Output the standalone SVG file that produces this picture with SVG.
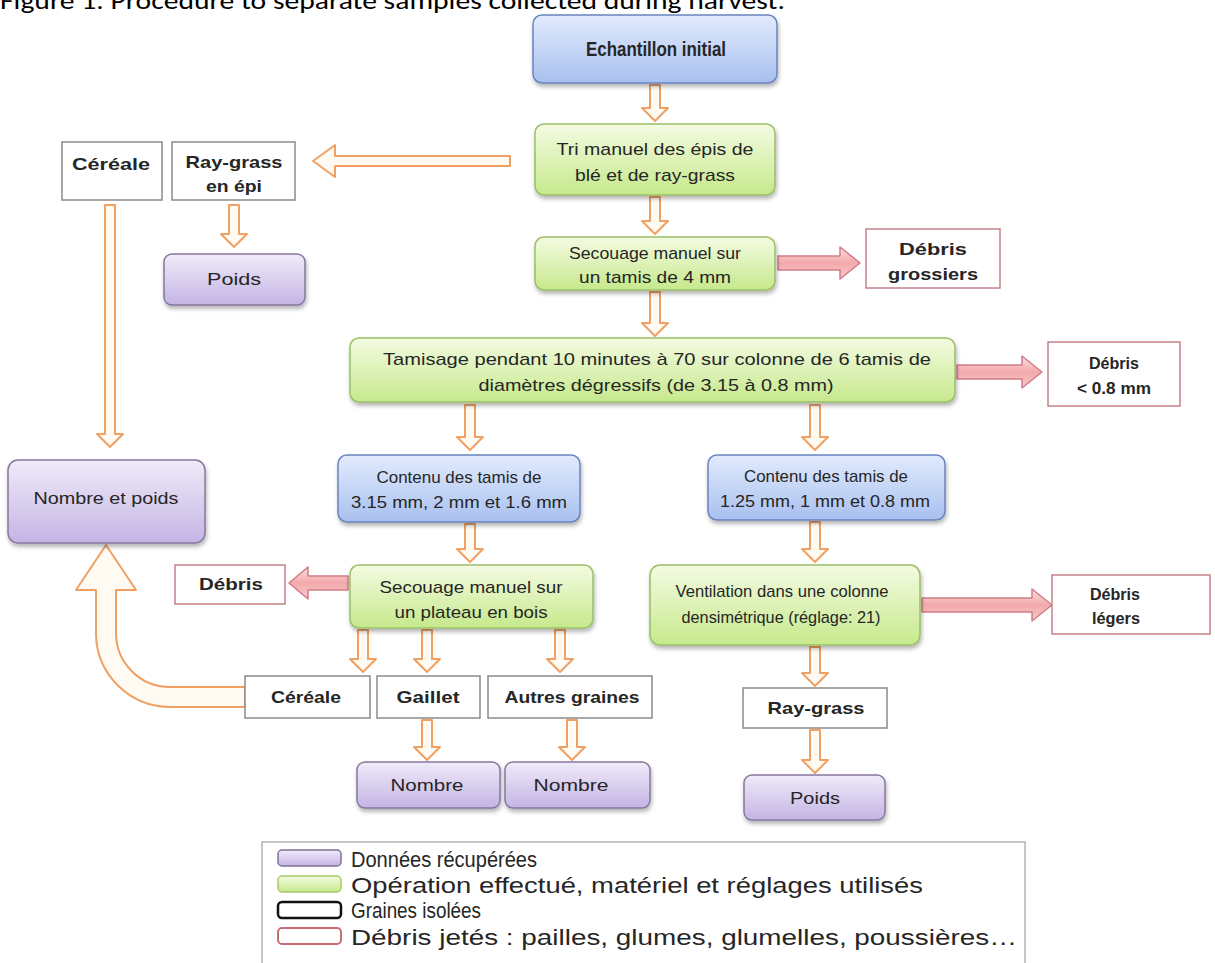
<svg xmlns="http://www.w3.org/2000/svg" width="1215" height="963" viewBox="0 0 1215 963">
<defs>
<linearGradient id="gBlue" x1="0" y1="0" x2="0" y2="1"><stop offset="0" stop-color="#e2ebfd"/><stop offset="1" stop-color="#a8c0ef"/></linearGradient>
<linearGradient id="gGreen" x1="0" y1="0" x2="0" y2="1"><stop offset="0" stop-color="#f4fbe2"/><stop offset="1" stop-color="#c6e98c"/></linearGradient>
<linearGradient id="gPurple" x1="0" y1="0" x2="0" y2="1"><stop offset="0" stop-color="#f0ebf9"/><stop offset="1" stop-color="#c4b4e4"/></linearGradient>
<linearGradient id="gRed" x1="0" y1="0" x2="0" y2="1"><stop offset="0" stop-color="#fbe0e0"/><stop offset="0.5" stop-color="#f2a9ab"/><stop offset="1" stop-color="#f7caca"/></linearGradient>
<filter id="sh" x="-10%" y="-10%" width="125%" height="135%"><feDropShadow dx="1" dy="3" stdDeviation="2" flood-color="#000" flood-opacity="0.3"/></filter>
<style>
.blue{fill:url(#gBlue);stroke:#6a84bd;stroke-width:1.5;filter:url(#sh)}
.green{fill:url(#gGreen);stroke:#9bbf68;stroke-width:1.5;filter:url(#sh)}
.purple{fill:url(#gPurple);stroke:#86779f;stroke-width:1.5;filter:url(#sh)}
.grain{fill:#fff;stroke:#8a8a8a;stroke-width:1.5}
.deb{fill:#fff;stroke:#c38288;stroke-width:1.5}
.oa{fill:#fffaf2;stroke:#f0a062;stroke-width:2;stroke-linejoin:round}
.ra{fill:url(#gRed);stroke:#d27b86;stroke-width:1.5;stroke-linejoin:round}
text{font-family:"Liberation Sans",Arial,sans-serif;fill:#262626;text-anchor:middle;font-size:17px}
.b{font-weight:bold;font-size:17px}
.lg{text-anchor:start;font-size:22px}
.title{font-family:Carlito,"Open Sans","Liberation Sans",sans-serif;text-anchor:start;font-size:24px;fill:#000}
</style>
</defs>
<rect width="1215" height="963" fill="#fff"/>
<text class="title" x="0" y="9" textLength="785" lengthAdjust="spacingAndGlyphs">Figure 1. Procedure to separate samples collected during harvest.</text>

<g id="connectors">
<path class="oa" d="M650,85 H660 V108 H668 L655,121 L642,108 H650 Z"/>
<path class="oa" d="M650,197 H660 V221 H668 L655,234 L642,221 H650 Z"/>
<path class="oa" d="M650,292 H660 V323 H668 L655,336 L642,323 H650 Z"/>
<path class="oa" d="M229,205 H239 V234 H247 L234,247 L221,234 H229 Z"/>
<path class="oa" d="M105,205 H115 V434 H123 L110,447 L97,434 H105 Z"/>
<path class="oa" d="M465,405 H475 V437 H483 L470,450 L457,437 H465 Z"/>
<path class="oa" d="M810,405 H820 V437 H828 L815,450 L802,437 H810 Z"/>
<path class="oa" d="M465,524 H475 V549 H483 L470,562 L457,549 H465 Z"/>
<path class="oa" d="M810,522 H820 V549 H828 L815,562 L802,549 H810 Z"/>
<path class="oa" d="M358,630 H368 V659 H376 L363,672 L350,659 H358 Z"/>
<path class="oa" d="M422,630 H432 V659 H440 L427,672 L414,659 H422 Z"/>
<path class="oa" d="M555,630 H565 V659 H573 L560,672 L547,659 H555 Z"/>
<path class="oa" d="M422,720 H432 V747 H440 L427,760 L414,747 H422 Z"/>
<path class="oa" d="M567,720 H577 V747 H585 L572,760 L559,747 H567 Z"/>
<path class="oa" d="M810,647 H820 V673 H828 L815,686 L802,673 H810 Z"/>
<path class="oa" d="M810,730 H820 V760 H828 L815,773 L802,760 H810 Z"/>
<path class="oa" d="M510,156 V166 H335 V177 L313,161 L335,145 V156 Z"/>
<path class="oa" d="M245,707 H170 A74,74 0 0 1 96,633 V590 H76 L106,545 L136,590 H116 V633 A54,54 0 0 0 170,687 H245 Z"/>
<path class="ra" d="M778,256 H840 V247 L860,263 L840,279 V270 H778 Z"/>
<path class="ra" d="M957,365 H1022 V356 L1042,372 L1022,388 V379 H957 Z"/>
<path class="ra" d="M348,576 H308 V567 L289,583 L308,599 V590 H348 Z"/>
<path class="ra" d="M922,598 H1032 V589 L1052,605 L1032,621 V612 H922 Z"/>
</g>

<g id="n-echantillon"><rect class="blue" x="533" y="15" width="244" height="68" rx="9"/><text class="b" x="656" y="56" style="font-size:21px" textLength="140" lengthAdjust="spacingAndGlyphs">Echantillon initial</text></g>
<g id="n-tri"><rect class="green" x="535" y="124" width="240" height="71" rx="9"/><text x="655" y="155" textLength="197" lengthAdjust="spacingAndGlyphs">Tri manuel des épis de</text><text x="655" y="181" textLength="160" lengthAdjust="spacingAndGlyphs">blé et de ray-grass</text></g>
<g id="n-cereale1"><rect class="grain" x="62" y="142" width="100" height="58"/><text class="b" x="111" y="170" textLength="78" lengthAdjust="spacingAndGlyphs">Céréale</text></g>
<g id="n-raygrass-epi"><rect class="grain" x="172" y="142" width="123" height="58"/><text class="b" x="234" y="168" textLength="97" lengthAdjust="spacingAndGlyphs">Ray-grass</text><text class="b" x="234" y="192" textLength="56" lengthAdjust="spacingAndGlyphs">en épi</text></g>
<g id="n-poids1"><rect class="purple" x="164" y="254" width="141" height="51" rx="8"/><text x="234" y="285" textLength="54" lengthAdjust="spacingAndGlyphs">Poids</text></g>
<g id="n-secouage1"><rect class="green" x="535" y="237" width="240" height="53" rx="9"/><text x="655" y="259" textLength="172" lengthAdjust="spacingAndGlyphs">Secouage manuel sur</text><text x="655" y="283" textLength="152" lengthAdjust="spacingAndGlyphs">un tamis de 4 mm</text></g>
<g id="n-debris-grossiers"><rect class="deb" x="866" y="229" width="134" height="59"/><text class="b" x="933" y="255" textLength="68" lengthAdjust="spacingAndGlyphs">Débris</text><text class="b" x="933" y="280" textLength="90" lengthAdjust="spacingAndGlyphs">grossiers</text></g>
<g id="n-tamisage"><rect class="green" x="350" y="338" width="605" height="64" rx="9"/><text x="657" y="365" textLength="548" lengthAdjust="spacingAndGlyphs">Tamisage pendant 10 minutes à 70 sur colonne de 6 tamis de</text><text x="656" y="391" textLength="355" lengthAdjust="spacingAndGlyphs">diamètres dégressifs (de 3.15 à 0.8 mm)</text></g>
<g id="n-debris-08"><rect class="deb" x="1048" y="342" width="132" height="64"/><text class="b" x="1114" y="369" textLength="50" lengthAdjust="spacingAndGlyphs">Débris</text><text class="b" x="1114" y="394" textLength="74" lengthAdjust="spacingAndGlyphs">&lt; 0.8 mm</text></g>
<g id="n-nombre-poids"><rect class="purple" x="8" y="460" width="197" height="83" rx="10"/><text x="106" y="504" textLength="145" lengthAdjust="spacingAndGlyphs">Nombre  et poids</text></g>
<g id="n-contenu1"><rect class="blue" x="338" y="455" width="242" height="67" rx="9"/><text x="459" y="483" textLength="165" lengthAdjust="spacingAndGlyphs">Contenu des tamis de</text><text x="459" y="508" textLength="216" lengthAdjust="spacingAndGlyphs">3.15 mm,  2 mm  et 1.6 mm</text></g>
<g id="n-contenu2"><rect class="blue" x="708" y="455" width="237" height="65" rx="9"/><text x="826" y="482" textLength="164" lengthAdjust="spacingAndGlyphs">Contenu des tamis de</text><text x="825" y="507" textLength="210" lengthAdjust="spacingAndGlyphs">1.25 mm,  1 mm  et 0.8 mm</text></g>
<g id="n-debris"><rect class="deb" x="175" y="565" width="110" height="39"/><text class="b" x="231" y="590" textLength="64" lengthAdjust="spacingAndGlyphs">Débris</text></g>
<g id="n-secouage2"><rect class="green" x="350" y="565" width="243" height="63" rx="9"/><text x="471" y="593" textLength="183" lengthAdjust="spacingAndGlyphs">Secouage manuel sur</text><text x="471" y="618" textLength="153" lengthAdjust="spacingAndGlyphs">un plateau en bois</text></g>
<g id="n-ventilation"><rect class="green" x="650" y="565" width="270" height="80" rx="10"/><text x="782" y="597" textLength="213" lengthAdjust="spacingAndGlyphs">Ventilation dans une colonne</text><text x="781" y="623" textLength="199" lengthAdjust="spacingAndGlyphs">densimétrique (réglage: 21)</text></g>
<g id="n-debris-legers"><rect class="deb" x="1052" y="575" width="158" height="59"/><text class="b" x="1115" y="600" textLength="50" lengthAdjust="spacingAndGlyphs">Débris</text><text class="b" x="1116" y="624" textLength="48" lengthAdjust="spacingAndGlyphs">légers</text></g>
<g id="n-cereale2"><rect class="grain" x="245" y="676" width="125" height="42"/><text class="b" x="306" y="703" textLength="70" lengthAdjust="spacingAndGlyphs">Céréale</text></g>
<g id="n-gaillet"><rect class="grain" x="377" y="676" width="103" height="42"/><text class="b" x="428" y="703" textLength="63" lengthAdjust="spacingAndGlyphs">Gaillet</text></g>
<g id="n-autres"><rect class="grain" x="488" y="676" width="164" height="42"/><text class="b" x="572" y="703" textLength="135" lengthAdjust="spacingAndGlyphs">Autres graines</text></g>
<g id="n-nombre1"><rect class="purple" x="357" y="762" width="143" height="46" rx="8"/><text x="427" y="791" textLength="73" lengthAdjust="spacingAndGlyphs">Nombre</text></g>
<g id="n-nombre2"><rect class="purple" x="505" y="762" width="145" height="46" rx="8"/><text x="571" y="791" textLength="75" lengthAdjust="spacingAndGlyphs">Nombre</text></g>
<g id="n-raygrass"><rect class="grain" x="743" y="688" width="144" height="40"/><text class="b" x="816" y="714" textLength="97" lengthAdjust="spacingAndGlyphs">Ray-grass</text></g>
<g id="n-poids2"><rect class="purple" x="744" y="775" width="141" height="45" rx="8"/><text x="815" y="804" textLength="50" lengthAdjust="spacingAndGlyphs">Poids</text></g>

<g id="legend">
<rect x="262" y="842" width="763" height="130" fill="#fff" stroke="#a0a0a0" stroke-width="1.2"/>
<rect x="278" y="850" width="63" height="16" rx="4" fill="url(#gPurple)" stroke="#7f7198" stroke-width="1.5"/>
<rect x="278" y="876" width="63" height="16" rx="4" fill="url(#gGreen)" stroke="#a8c76e" stroke-width="1.5"/>
<rect x="278" y="902" width="63" height="16" rx="4" fill="#fff" stroke="#111" stroke-width="2.5"/>
<rect x="278" y="928" width="63" height="16" rx="4" fill="#fff" stroke="#c76d78" stroke-width="2"/>
<text class="lg" x="351" y="867" textLength="186" lengthAdjust="spacingAndGlyphs">Données récupérées</text>
<text class="lg" x="351" y="893" textLength="572" lengthAdjust="spacingAndGlyphs">Opération effectué, matériel et réglages utilisés</text>
<text class="lg" x="351" y="918" textLength="130" lengthAdjust="spacingAndGlyphs">Graines  isolées</text>
<text class="lg" x="351" y="945" textLength="666" lengthAdjust="spacingAndGlyphs">Débris jetés : pailles, glumes, glumelles, poussières…</text>
</g>
</svg>
